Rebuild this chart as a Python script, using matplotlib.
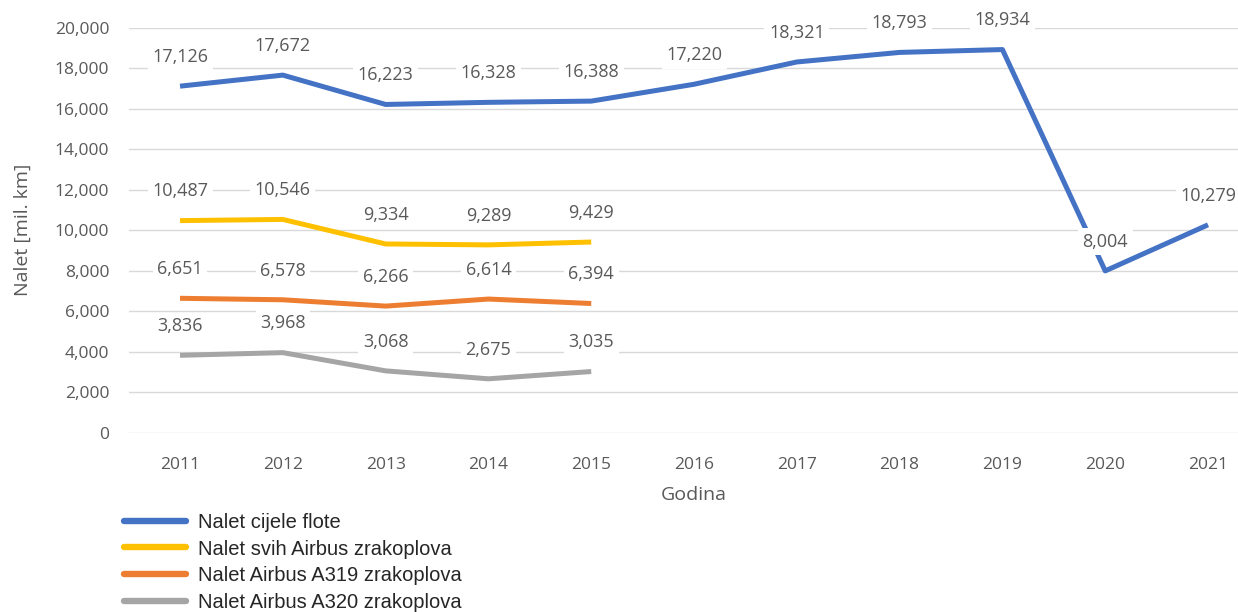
import matplotlib
matplotlib.use("Agg")
import matplotlib.pyplot as plt

# data
years = ["2011", "2012", "2013", "2014", "2015", "2016", "2017", "2018", "2019", "2020", "2021"]
fleet = [17126, 17672, 16223, 16328, 16388, 17220, 18321, 18793, 18934, 8004, 10279]
airbus_all = [10487, 10546, 9334, 9289, 9429]
a319 = [6651, 6578, 6266, 6614, 6394]
a320 = [3836, 3968, 3068, 2675, 3035]

series = [
    ("Nalet cijele flote", fleet, "#4472C4"),
    ("Nalet svih Airbus zrakoplova", airbus_all, "#FFC000"),
    ("Nalet Airbus A319 zrakoplova", a319, "#ED7D31"),
    ("Nalet Airbus A320 zrakoplova", a320, "#A5A5A5"),
]

txt = "#595959"
plt.rcParams['font.family'] = ['Open Sans', 'DejaVu Sans']

fig = plt.figure(figsize=(12.38, 6.12), dpi=100)
ax = fig.add_axes([0.1039, 0.2925, 0.9134, 0.6618])

x = list(range(len(years)))
handles = []
for name, vals, col in series:
    xs = x[:len(vals)]
    h, = ax.plot(xs, vals, color=col, lw=3.6, solid_capstyle="butt", label=name, zorder=3)
    handles.append(h)
    for xi, v in zip(xs, vals):
        ax.annotate(f"{v:,}", (xi, v), xytext=(0, 21), textcoords="offset points",
                    ha="center", va="center", fontsize=13, color=txt, zorder=5,
                    bbox=dict(boxstyle="square,pad=0.25", fc="white", ec="none"))

ax.set_xlim(-0.5, len(years) - 0.5)
ax.set_ylim(0, 20000)
ax.set_yticks(range(0, 20001, 2000))
ax.set_yticklabels([f"{t:,}" for t in range(0, 20001, 2000)])
ax.set_xticks(x)
ax.set_xticklabels(years)
ax.tick_params(length=0, labelsize=12.5, colors=txt)
ax.tick_params(axis="x", pad=17)
ax.tick_params(axis="y", pad=14)
ax.grid(axis="y", color="#D9D9D9", lw=1, zorder=0)
ax.set_axisbelow(True)
for s in ax.spines.values():
    s.set_visible(False)

ax.set_xlabel("Godina", fontsize=14, color=txt, labelpad=10)
fig.text(0.018, 0.625, "Nalet [mil. km]", rotation=90, fontsize=14, color=txt,
         ha="center", va="center")

leg = fig.legend(handles=handles, loc="upper left", bbox_to_anchor=(0.1, 0.162),
                 frameon=False, prop={"family": "Liberation Sans", "size": 14.5},
                 handlelength=3.1, handletextpad=0.6,
                 labelspacing=0.38, borderaxespad=0, borderpad=0)
for ln in leg.get_lines():
    ln.set_linewidth(4.6)
    ln.set_solid_capstyle("round")
for t in leg.get_texts():
    t.set_color("#262626")

fig.savefig("out.png", dpi=100)
